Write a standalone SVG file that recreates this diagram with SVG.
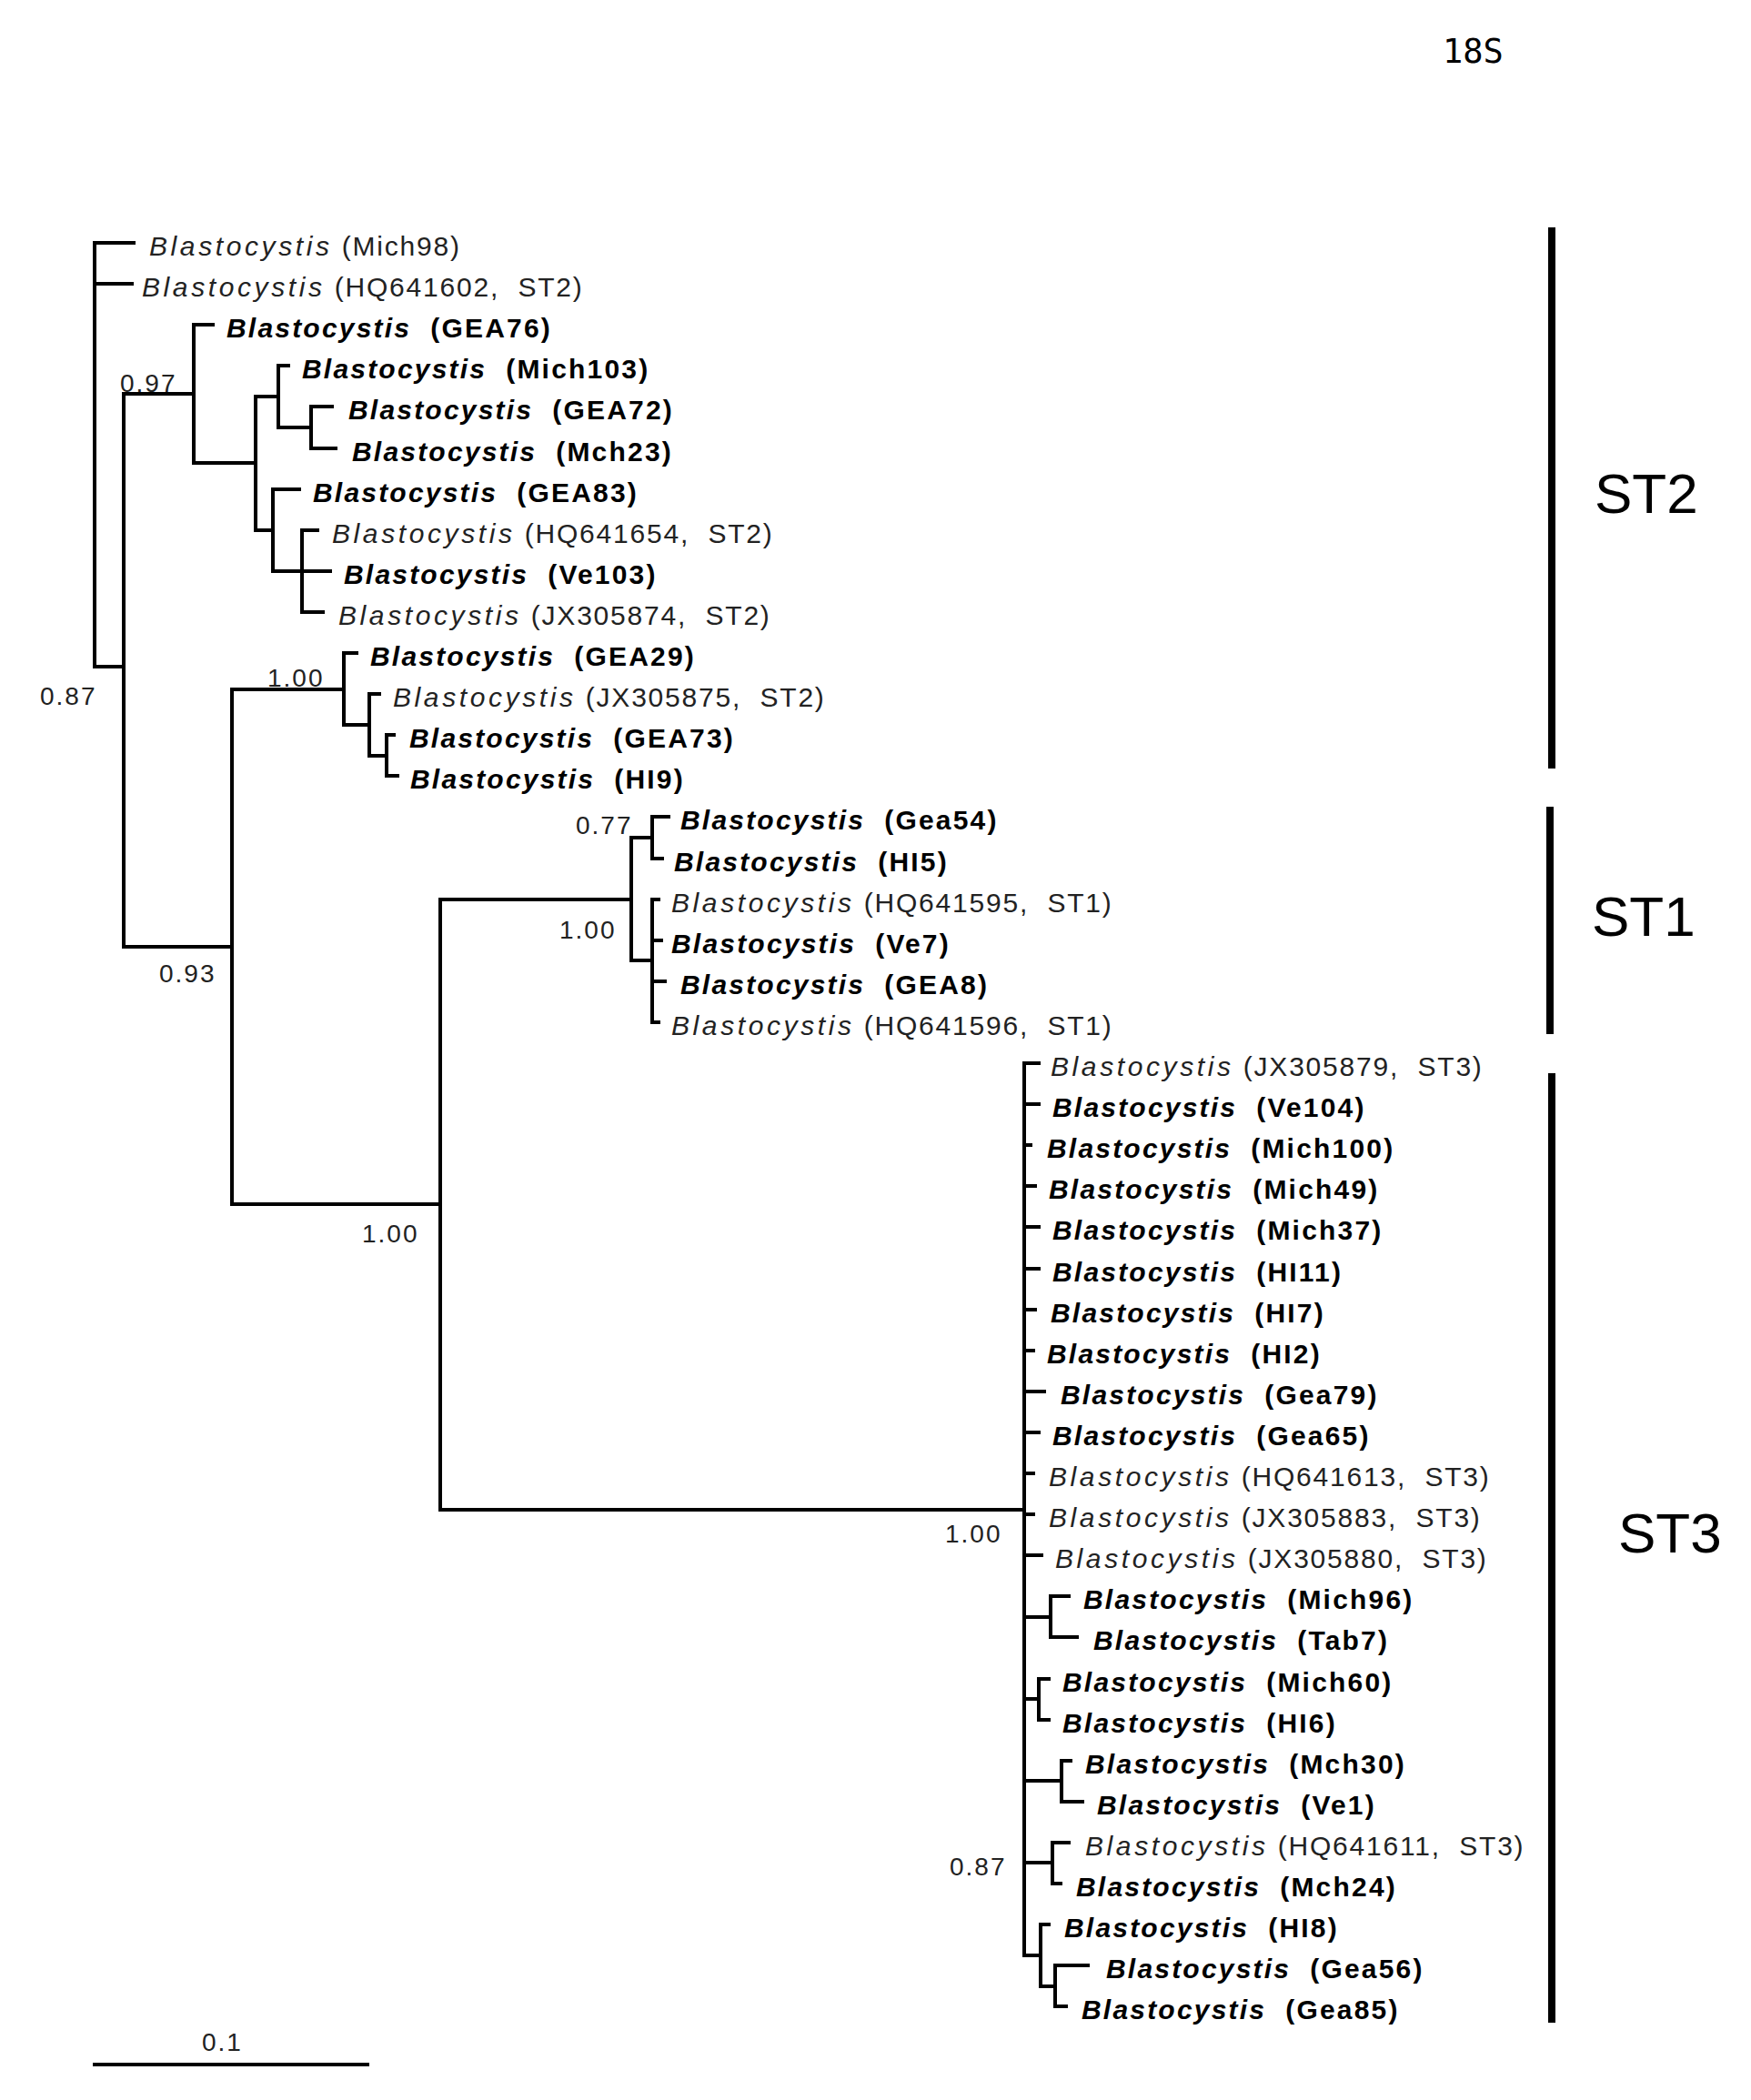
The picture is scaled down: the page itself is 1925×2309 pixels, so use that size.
<svg xmlns="http://www.w3.org/2000/svg" width="1925" height="2309" viewBox="0 0 1925 2309">
<style>
.br{fill:none;stroke:#000;stroke-width:4;stroke-linecap:square}
.bar{stroke:#000;stroke-width:8}
.lab{font-family:"Liberation Sans",Arial,sans-serif;font-size:30px;fill:#222;letter-spacing:1.8px}
.lab .i{font-style:italic;letter-spacing:3.6px}
.lab.b{font-weight:bold;fill:#000;letter-spacing:2.2px}
.lab.b .i{letter-spacing:2.2px}
.sup{font-family:"Liberation Sans",Arial,sans-serif;font-size:28px;fill:#222;letter-spacing:2px}
.st{font-family:"Liberation Sans",Arial,sans-serif;font-size:62px;fill:#000}
.title{font-family:"DejaVu Sans Mono",monospace;font-size:37px;fill:#000}
</style>
<rect width="1925" height="2309" fill="#fff"/>
<text class="title" x="1586" y="69">18S</text>
<g id="connectors">
<path class="br" d="M104,267V733 M104,267H147 M104,312H145 M104,733H136"/>
<path class="br" d="M136,433V1041 M136,433H213 M136,1041H255"/>
<path class="br" d="M213,357V509 M213,357H234 M213,509H281"/>
<path class="br" d="M281,436V583 M281,436H306 M281,583H300"/>
<path class="br" d="M306,402V470 M306,402H317 M306,470H342"/>
<path class="br" d="M342,447V493 M342,447H365 M342,493H369"/>
<path class="br" d="M300,538V628 M300,538H329 M300,628H332"/>
<path class="br" d="M332,583V673 M332,583H349 M332,628H363 M332,673H355"/>
<path class="br" d="M255,758V1324 M255,758H378 M255,1324H484"/>
<path class="br" d="M378,718V797 M378,718H392 M378,797H406"/>
<path class="br" d="M406,763V831 M406,763H417 M406,831H425"/>
<path class="br" d="M425,808V853 M425,808H433 M425,853H437"/>
<path class="br" d="M484,989V1660 M484,989H694 M484,1660H1126"/>
<path class="br" d="M694,921V1056 M694,921H717 M694,1056H717"/>
<path class="br" d="M717,898V944 M717,898H735 M717,944H728"/>
<path class="br" d="M717,989V1124 M717,989H724 M717,1034H727 M717,1079H731 M717,1124H724"/>
<path class="br" d="M1126,1169V2150 M1126,1169H1142 M1126,1214H1142 M1126,1259H1133 M1126,1304H1138 M1126,1349H1142 M1126,1395H1142 M1126,1440H1138 M1126,1485H1136 M1126,1530H1148 M1126,1575H1142 M1126,1620H1136 M1126,1665H1136 M1126,1710H1145 M1126,1778H1155 M1126,1868H1142 M1126,1958H1167 M1126,2048H1157 M1126,2150H1144"/>
<path class="br" d="M1155,1755V1800 M1155,1755H1175 M1155,1800H1184"/>
<path class="br" d="M1142,1846V1891 M1142,1846H1153 M1142,1891H1153"/>
<path class="br" d="M1167,1936V1981 M1167,1936H1177 M1167,1981H1190"/>
<path class="br" d="M1157,2026V2071 M1157,2026H1175 M1157,2071H1166"/>
<path class="br" d="M1144,2116V2184 M1144,2116H1153 M1144,2184H1160"/>
<path class="br" d="M1160,2161V2206 M1160,2161H1196 M1160,2206H1172"/>
</g>
<g id="support">
<text class="sup" x="44" y="775">0.87</text>
<text class="sup" x="132" y="431">0.97</text>
<text class="sup" x="175" y="1080">0.93</text>
<text class="sup" x="294" y="755">1.00</text>
<text class="sup" x="633" y="917">0.77</text>
<text class="sup" x="615" y="1032">1.00</text>
<text class="sup" x="398" y="1366">1.00</text>
<text class="sup" x="1039" y="1696">1.00</text>
<text class="sup" x="1044" y="2062">0.87</text>
</g>
<g id="n01"><text class="lab" x="164" y="281"><tspan class="i">Blastocystis</tspan> (Mich98)</text></g>
<g id="n02"><text class="lab" x="156" y="326"><tspan class="i">Blastocystis</tspan> (HQ641602,&#160; ST2)</text></g>
<g id="n03"><text class="lab b" x="249" y="371"><tspan class="i">Blastocystis</tspan>&#160; (GEA76)</text></g>
<g id="n04"><text class="lab b" x="332" y="416"><tspan class="i">Blastocystis</tspan>&#160; (Mich103)</text></g>
<g id="n05"><text class="lab b" x="383" y="461"><tspan class="i">Blastocystis</tspan>&#160; (GEA72)</text></g>
<g id="n06"><text class="lab b" x="387" y="507"><tspan class="i">Blastocystis</tspan>&#160; (Mch23)</text></g>
<g id="n07"><text class="lab b" x="344" y="552"><tspan class="i">Blastocystis</tspan>&#160; (GEA83)</text></g>
<g id="n08"><text class="lab" x="365" y="597"><tspan class="i">Blastocystis</tspan> (HQ641654,&#160; ST2)</text></g>
<g id="n09"><text class="lab b" x="378" y="642"><tspan class="i">Blastocystis</tspan>&#160; (Ve103)</text></g>
<g id="n10"><text class="lab" x="372" y="687"><tspan class="i">Blastocystis</tspan> (JX305874,&#160; ST2)</text></g>
<g id="n11"><text class="lab b" x="407" y="732"><tspan class="i">Blastocystis</tspan>&#160; (GEA29)</text></g>
<g id="n12"><text class="lab" x="432" y="777"><tspan class="i">Blastocystis</tspan> (JX305875,&#160; ST2)</text></g>
<g id="n13"><text class="lab b" x="450" y="822"><tspan class="i">Blastocystis</tspan>&#160; (GEA73)</text></g>
<g id="n14"><text class="lab b" x="451" y="867"><tspan class="i">Blastocystis</tspan>&#160; (HI9)</text></g>
<g id="n15"><text class="lab b" x="748" y="912"><tspan class="i">Blastocystis</tspan>&#160; (Gea54)</text></g>
<g id="n16"><text class="lab b" x="741" y="958"><tspan class="i">Blastocystis</tspan>&#160; (HI5)</text></g>
<g id="n17"><text class="lab" x="738" y="1003"><tspan class="i">Blastocystis</tspan> (HQ641595,&#160; ST1)</text></g>
<g id="n18"><text class="lab b" x="738" y="1048"><tspan class="i">Blastocystis</tspan>&#160; (Ve7)</text></g>
<g id="n19"><text class="lab b" x="748" y="1093"><tspan class="i">Blastocystis</tspan>&#160; (GEA8)</text></g>
<g id="n20"><text class="lab" x="738" y="1138"><tspan class="i">Blastocystis</tspan> (HQ641596,&#160; ST1)</text></g>
<g id="n21"><text class="lab" x="1155" y="1183"><tspan class="i">Blastocystis</tspan> (JX305879,&#160; ST3)</text></g>
<g id="n22"><text class="lab b" x="1157" y="1228"><tspan class="i">Blastocystis</tspan>&#160; (Ve104)</text></g>
<g id="n23"><text class="lab b" x="1151" y="1273"><tspan class="i">Blastocystis</tspan>&#160; (Mich100)</text></g>
<g id="n24"><text class="lab b" x="1153" y="1318"><tspan class="i">Blastocystis</tspan>&#160; (Mich49)</text></g>
<g id="n25"><text class="lab b" x="1157" y="1363"><tspan class="i">Blastocystis</tspan>&#160; (Mich37)</text></g>
<g id="n26"><text class="lab b" x="1157" y="1409"><tspan class="i">Blastocystis</tspan>&#160; (HI11)</text></g>
<g id="n27"><text class="lab b" x="1155" y="1454"><tspan class="i">Blastocystis</tspan>&#160; (HI7)</text></g>
<g id="n28"><text class="lab b" x="1151" y="1499"><tspan class="i">Blastocystis</tspan>&#160; (HI2)</text></g>
<g id="n29"><text class="lab b" x="1166" y="1544"><tspan class="i">Blastocystis</tspan>&#160; (Gea79)</text></g>
<g id="n30"><text class="lab b" x="1157" y="1589"><tspan class="i">Blastocystis</tspan>&#160; (Gea65)</text></g>
<g id="n31"><text class="lab" x="1153" y="1634"><tspan class="i">Blastocystis</tspan> (HQ641613,&#160; ST3)</text></g>
<g id="n32"><text class="lab" x="1153" y="1679"><tspan class="i">Blastocystis</tspan> (JX305883,&#160; ST3)</text></g>
<g id="n33"><text class="lab" x="1160" y="1724"><tspan class="i">Blastocystis</tspan> (JX305880,&#160; ST3)</text></g>
<g id="n34"><text class="lab b" x="1191" y="1769"><tspan class="i">Blastocystis</tspan>&#160; (Mich96)</text></g>
<g id="n35"><text class="lab b" x="1202" y="1814"><tspan class="i">Blastocystis</tspan>&#160; (Tab7)</text></g>
<g id="n36"><text class="lab b" x="1168" y="1860"><tspan class="i">Blastocystis</tspan>&#160; (Mich60)</text></g>
<g id="n37"><text class="lab b" x="1168" y="1905"><tspan class="i">Blastocystis</tspan>&#160; (HI6)</text></g>
<g id="n38"><text class="lab b" x="1193" y="1950"><tspan class="i">Blastocystis</tspan>&#160; (Mch30)</text></g>
<g id="n39"><text class="lab b" x="1206" y="1995"><tspan class="i">Blastocystis</tspan>&#160; (Ve1)</text></g>
<g id="n40"><text class="lab" x="1193" y="2040"><tspan class="i">Blastocystis</tspan> (HQ641611,&#160; ST3)</text></g>
<g id="n41"><text class="lab b" x="1183" y="2085"><tspan class="i">Blastocystis</tspan>&#160; (Mch24)</text></g>
<g id="n42"><text class="lab b" x="1170" y="2130"><tspan class="i">Blastocystis</tspan>&#160; (HI8)</text></g>
<g id="n43"><text class="lab b" x="1216" y="2175"><tspan class="i">Blastocystis</tspan>&#160; (Gea56)</text></g>
<g id="n44"><text class="lab b" x="1189" y="2220"><tspan class="i">Blastocystis</tspan>&#160; (Gea85)</text></g>
<g id="subtypes">
<line class="bar" x1="1706" y1="250" x2="1706" y2="845"/>
<line class="bar" x1="1704" y1="887" x2="1704" y2="1137"/>
<line class="bar" x1="1706" y1="1180" x2="1706" y2="2224"/>
<text class="st" x="1753" y="564">ST2</text>
<text class="st" x="1750" y="1029">ST1</text>
<text class="st" x="1779" y="1707">ST3</text>
</g>
<g id="scale">
<line x1="102" y1="2270" x2="406" y2="2270" stroke="#000" stroke-width="4"/>
<text class="sup" x="222" y="2255">0.1</text>
</g>
</svg>
